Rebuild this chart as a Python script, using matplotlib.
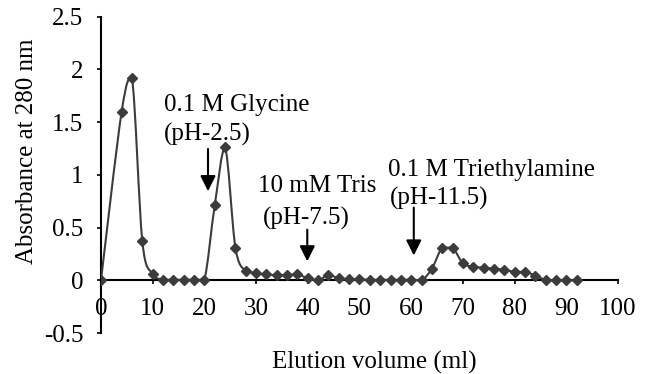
import numpy as np
import matplotlib
matplotlib.use("Agg")
import matplotlib.pyplot as plt
from matplotlib.path import Path
from matplotlib.patches import PathPatch

# elution profile (ml, A280)
volume = [0, 4, 6, 8, 10, 12, 14, 16, 18, 20, 22, 24, 26, 28, 30, 32, 34, 36,
          38, 40, 42, 44, 46, 48, 50, 52, 54, 56, 58, 60, 62, 64, 66, 68, 70,
          72, 74, 76, 78, 80, 82, 84, 86, 88, 90, 92]
absorb = [0, 1.6, 1.92, 0.37, 0.06, 0.005, 0.005, 0.005, 0.005, 0.005, 0.71,
          1.26, 0.31, 0.086, 0.07, 0.055, 0.05, 0.05, 0.055, 0.02, 0.0, 0.05,
          0.02, 0.01, 0.01, 0.005, 0.005, 0.005, 0.005, 0.005, 0.0, 0.11, 0.31,
          0.31, 0.16, 0.13, 0.12, 0.11, 0.10, 0.08, 0.08, 0.045, 0.005, 0, 0, 0]

# buffer changes: (arrow x, arrow top, arrow tip)
buffer_arrows = [(20.7, 1.245, 0.845), (39.9, 0.48, 0.18), (60.5, 0.69, 0.235)]
buffer_labels = [(12.2, 1.61, "0.1 M Glycine"), (12.2, 1.324, "(pH-2.5)"),
                 (30.4, 0.838, "10 mM Tris"), (31.3, 0.53, "(pH-7.5)"),
                 (55.6, 0.99, "0.1 M Triethylamine"), (55.8, 0.72, "(pH-11.5)")]

plt.rcParams['font.family'] = ['Liberation Serif', 'DejaVu Serif']
plt.rcParams['font.size'] = 18


def smooth_path(xs, ys):
    # bezier through the points (smoothed line), control points kept
    # inside each segment's y range so peaks don't overshoot
    pts = np.column_stack([xs, ys]).astype(float)
    verts = [pts[0]]
    codes = [Path.MOVETO]
    n = len(pts)
    for i in range(n - 1):
        p0 = pts[max(i - 1, 0)]
        p1 = pts[i]
        p2 = pts[i + 1]
        p3 = pts[min(i + 2, n - 1)]
        c1 = p1 + (p2 - p0) / 6.0
        c2 = p2 - (p3 - p1) / 6.0
        lo, hi = min(p1[1], p2[1]), max(p1[1], p2[1])
        c1[1] = np.clip(c1[1], lo, hi)
        c2[1] = np.clip(c2[1], lo, hi)
        verts += [c1, c2, p2]
        codes += [Path.CURVE4] * 3
    return Path(verts, codes)


fig = plt.figure(figsize=(6.46, 3.74), dpi=100)
ax = fig.add_axes([0.1563, 0.1096, 0.8004, 0.8457])

line_col = "#3c3c3c"
ax.add_patch(PathPatch(smooth_path(volume, absorb), fill=False,
                       edgecolor=line_col, lw=1.5, zorder=3))
ax.plot(volume, absorb, linestyle="none", marker="D", markersize=5,
        color=line_col, zorder=4)

for xa, ytop, ytip in buffer_arrows:
    ax.annotate("", xy=(xa, ytip), xytext=(xa, ytop),
                arrowprops=dict(arrowstyle="-|>,head_length=0.4,head_width=0.2",
                                color="black", lw=1.5, mutation_scale=23,
                                shrinkA=0, shrinkB=0))
for xt, yt, txt in buffer_labels:
    ax.text(xt, yt, txt, ha="left", va="baseline")

ax.set_xlim(0, 100)
ax.set_ylim(-0.5, 2.5)
ax.set_xticks(np.arange(0, 101, 10))
ax.set_yticks(np.arange(-0.5, 2.51, 0.5))
ax.set_yticklabels(["-0.5", "0", "0.5", "1", "1.5", "2", "2.5"])

ax.spines["top"].set_visible(False)
ax.spines["right"].set_visible(False)
ax.spines["bottom"].set_position(("data", 0))
ax.spines["bottom"].set_linewidth(1.5)
ax.spines["left"].set_linewidth(1.5)
ax.tick_params(axis="x", direction="out", length=3, width=1.2, pad=9.5)
ax.tick_params(axis="y", direction="out", length=3, width=1.2, pad=9.6)

ax.set_ylabel("Absorbance at 280 nm")
ax.yaxis.set_label_coords(-0.122, 0.575)
ax.set_xlabel("Elution volume (ml)")
ax.xaxis.set_label_coords(0.528, -0.058)

fig.savefig("out.png", dpi=100)
